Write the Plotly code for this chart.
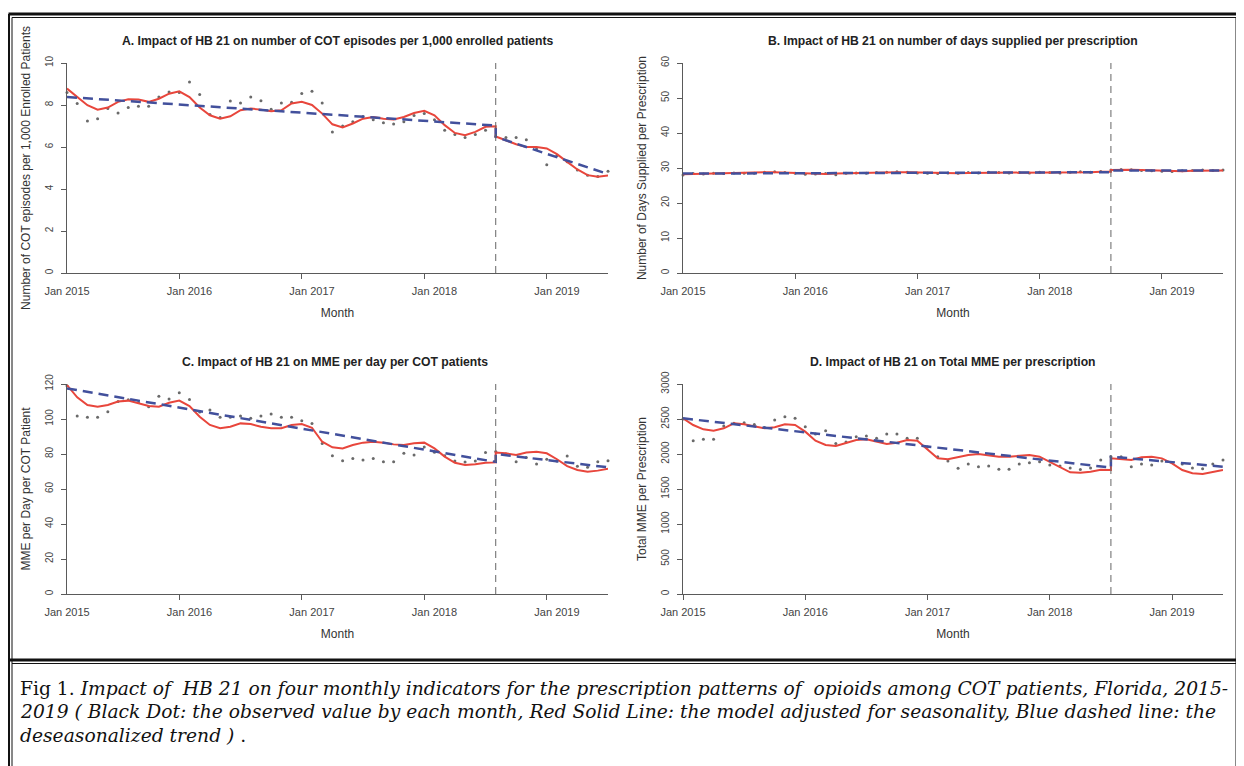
import plotly.graph_objects as go

W, H = 1244, 766
OFF = 8                      # page body margin in the browser
FW, FH = W - OFF, H - OFF    # figure size so the page exactly fills the window

# ---------------- data ----------------
months = list(range(54))          # Jan 2015 ... Jun 2019 (month index)
break_idx = 42                    # Jul 2018, HB 21
label_pos = [0, 12, 24, 36, 48]
tick_labels = ["Jan 2015", "Jan 2016", "Jan 2017", "Jan 2018", "Jan 2019"]
shifted_tick_pos = [11, 23, 35, 47]

# A. COT episodes per 1,000 enrolled patients
a_obs = [8.60, 8.07, 7.24, 7.35, 7.83, 7.62, 7.88, 7.94, 7.94, 8.38,
         8.62, 8.60, 9.10, 8.50, 7.55, 7.40, 8.19, 8.10, 8.38, 8.20,
         7.80, 8.10, 8.13, 8.55, 8.65, 8.10, 6.72, 7.00, 7.20, 7.45,
         7.30, 7.15, 7.10, 7.20, 7.50, 7.60, 7.30, 6.80, 6.60, 6.45,
         6.60, 6.80, 6.50, 6.45, 6.45, 6.35, 5.90, 5.15, 5.60, 5.30,
         4.90, 4.65, 4.60, 4.85]
a_fit_pre = [8.78, 8.38, 7.99, 7.78, 7.88, 8.15, 8.27, 8.26, 8.15, 8.30,
             8.54, 8.65, 8.38, 7.88, 7.51, 7.35, 7.46, 7.75, 7.83, 7.78,
             7.70, 7.75, 8.07, 8.15, 8.00, 7.59, 7.08, 6.93, 7.12, 7.35,
             7.43, 7.35, 7.31, 7.43, 7.62, 7.72, 7.51, 7.04, 6.67, 6.56,
             6.72, 6.96, 6.99]
a_fit_post = [6.50, 6.32, 6.13, 6.00, 6.00, 5.93, 5.66, 5.29, 4.93, 4.66, 4.58, 4.64]
a_trend_pre = [8.38, 7.02]
a_trend_post = [6.48, 4.71]

# B. Days supplied per prescription
b_obs = [28.0, 28.4, 28.3, 28.5, 28.4, 28.6, 28.5, 28.5, 28.8, 28.9,
         28.7, 28.5, 28.2, 28.3, 28.4, 28.1, 28.5, 28.6, 28.5, 28.7,
         28.8, 28.9, 28.8, 28.6, 28.5, 28.4, 28.6, 28.5, 28.7, 28.6,
         28.8, 28.7, 28.6, 28.7, 28.6, 28.8, 28.7, 28.6, 28.8, 28.9,
         28.8, 29.0, 29.4, 29.6, 29.5, 29.3, 29.2, 29.1, 29.0, 29.2,
         29.3, 29.4, 29.3, 29.4]
b_fit_pre = [28.2, 28.3, 28.4, 28.4, 28.5, 28.5, 28.6, 28.7, 28.8, 28.8,
             28.7, 28.6, 28.4, 28.3, 28.3, 28.4, 28.5, 28.5, 28.6, 28.7,
             28.8, 28.8, 28.8, 28.7, 28.6, 28.5, 28.5, 28.5, 28.6, 28.6,
             28.7, 28.7, 28.7, 28.8, 28.8, 28.8, 28.8, 28.7, 28.7, 28.8,
             28.8, 28.9, 28.9]
b_fit_post = [29.4, 29.5, 29.5, 29.4, 29.3, 29.2, 29.1, 29.1, 29.2, 29.3, 29.3, 29.3]
b_trend_pre = [28.4, 28.8]
b_trend_post = [29.3, 29.3]

# C. MME per day per COT patient
c_obs = [119.0, 101.7, 101.0, 101.0, 104.2, 110.0, 111.0, 109.5, 107.0, 113.0,
         111.5, 115.0, 111.2, 104.0, 105.1, 101.0, 101.0, 101.7, 100.4, 101.7,
         102.9, 101.0, 101.0, 99.0, 97.5, 86.0, 79.0, 76.2, 77.5, 76.6,
         77.5, 75.6, 75.6, 80.4, 79.4, 84.0, 81.0, 79.0, 76.0, 75.5,
         76.0, 80.8, 81.5, 80.0, 75.6, 78.0, 74.3, 77.0, 76.0, 78.9,
         73.0, 72.5, 75.6, 76.2]
c_fit_pre = [119.4, 112.4, 108.0, 107.0, 108.0, 110.0, 110.5, 109.0, 107.4, 107.0,
             109.3, 110.5, 107.4, 101.3, 96.6, 94.7, 95.6, 97.5, 97.1, 95.6,
             94.7, 94.7, 96.6, 97.1, 95.0, 87.0, 83.8, 83.2, 85.1, 86.5,
             87.0, 86.5, 85.5, 85.1, 86.1, 86.5, 83.2, 78.5, 75.0, 73.7,
             74.1, 75.0, 75.2]
c_fit_post = [80.8, 80.4, 79.4, 80.8, 81.3, 80.4, 77.0, 73.1, 70.9, 69.9, 70.5, 71.6]
c_trend_pre = [117.5, 75.5]
c_trend_post = [80.0, 72.4]

# D. Total MME per prescription
d_obs = [2500, 2190, 2210, 2210, 2400, 2440, 2448, 2420, 2380, 2486,
         2533, 2510, 2390, 2286, 2333, 2150, 2170, 2248, 2257, 2224,
         2286, 2286, 2224, 2224, 2100, 1960, 1900, 1795, 1857, 1819,
         1829, 1781, 1781, 1857, 1876, 1890, 1843, 1830, 1800, 1780,
         1800, 1914, 1960, 1962, 1819, 1857, 1843, 1900, 1880, 1857,
         1800, 1790, 1857, 1914]
d_fit_pre = [2510, 2414, 2352, 2333, 2367, 2438, 2424, 2390, 2367, 2381,
             2424, 2414, 2319, 2190, 2129, 2114, 2152, 2200, 2210, 2176,
             2143, 2162, 2200, 2190, 2057, 1938, 1924, 1952, 1986, 2000,
             1981, 1962, 1962, 1971, 1986, 1962, 1890, 1810, 1738, 1733,
             1748, 1776, 1771]
d_fit_post = [1938, 1924, 1914, 1952, 1962, 1938, 1867, 1771, 1724, 1714, 1738, 1771]
d_trend_pre = [2510, 1805]
d_trend_post = [1962, 1819]

panels = [
    dict(title="A. Impact of HB 21 on number of COT episodes per 1,000 enrolled patients",
         ytitle="Number of COT episodes per 1,000 Enrolled Patients",
         yticks=[0, 2, 4, 6, 8, 10], obs=a_obs, fpre=a_fit_pre, fpost=a_fit_post,
         tpre=a_trend_pre, tpost=a_trend_post, shifted=True,
         box=(67, 63, 608, 273), title_xc=338, title_y=41),
    dict(title="B. Impact of HB 21 on number of days supplied per prescription",
         ytitle="Number of Days Supplied per Prescription",
         yticks=[0, 10, 20, 30, 40, 50, 60], obs=b_obs, fpre=b_fit_pre, fpost=b_fit_post,
         tpre=b_trend_pre, tpost=b_trend_post, shifted=True,
         box=(683, 63, 1223, 273), title_xc=953, title_y=41),
    dict(title="C. Impact of HB 21 on MME per day per COT patients",
         ytitle="MME per Day per COT Patient",
         yticks=[0, 20, 40, 60, 80, 100, 120], obs=c_obs, fpre=c_fit_pre, fpost=c_fit_post,
         tpre=c_trend_pre, tpost=c_trend_post, shifted=True,
         box=(67, 384, 608, 594), title_xc=335, title_y=362),
    dict(title="D. Impact of HB 21 on Total MME per prescription",
         ytitle="Total MME per Prescription",
         yticks=[0, 500, 1000, 1500, 2000, 2500, 3000], obs=d_obs, fpre=d_fit_pre, fpost=d_fit_post,
         tpre=d_trend_pre, tpost=d_trend_post, shifted=False,
         box=(683, 384, 1223, 594), title_xc=953, title_y=362),
]

RED = "#E8463C"
BLUE = "#42509C"
DOT = "#6a6a6a"
AXC = "#5a5a5a"
FONT = "Liberation Sans, Arial, sans-serif"


def px(x):
    return (x - OFF) / FW


def py(y):
    return 1 - (y - OFF) / FH


fig = go.Figure()
layout = dict(
    width=FW, height=FH, margin=dict(l=0, r=0, t=0, b=0, autoexpand=False),
    paper_bgcolor="white", plot_bgcolor="white", showlegend=False,
    font=dict(family=FONT, color="#333"),
    annotations=[], shapes=[],
)

for k, p in enumerate(panels, start=1):
    sfx = "" if k == 1 else str(k)
    xa, ya = "x" + sfx, "y" + sfx
    x0, y0, x1, y1 = p["box"]

    fig.add_trace(go.Scatter(x=months, y=p["obs"], mode="markers", xaxis=xa, yaxis=ya,
                             marker=dict(size=3, color=DOT), cliponaxis=False))
    fit_x = months[:break_idx + 1] + months[break_idx:]
    fig.add_trace(go.Scatter(x=fit_x, y=p["fpre"] + p["fpost"], mode="lines",
                             xaxis=xa, yaxis=ya, line=dict(color=RED, width=2)))
    trend_x = [months[0], months[break_idx], months[break_idx], months[-1]]
    fig.add_trace(go.Scatter(x=trend_x, y=p["tpre"] + p["tpost"], mode="lines",
                             xaxis=xa, yaxis=ya,
                             line=dict(color=BLUE, width=2.5, dash="10px,6px")))

    xaxis = dict(
        domain=[px(x0), px(x1)], anchor=ya, range=[months[0], months[-1]],
        automargin=False,
        showline=True, linecolor=AXC, linewidth=1, showgrid=False, zeroline=False,
        tickmode="array", tickvals=label_pos, ticktext=tick_labels,
        tickfont=dict(size=11, color="#444"),
        title=dict(text="Month", font=dict(size=12, color="#333"), standoff=12),
    )
    if p["shifted"]:
        xaxis.update(ticks="", ticklabelstandoff=8,
                     minor=dict(tickmode="array", tickvals=shifted_tick_pos,
                                ticks="outside", ticklen=5, tickcolor=AXC, tickwidth=1))
    else:
        xaxis.update(ticks="outside", ticklen=5, tickcolor=AXC, ticklabelstandoff=3)

    yaxis = dict(
        domain=[py(y1), py(y0)], anchor=xa, range=[p["yticks"][0], p["yticks"][-1]],
        automargin=False,
        showline=True, linecolor=AXC, linewidth=1, showgrid=False, zeroline=False,
        tickmode="array", tickvals=p["yticks"], ticks="outside", ticklen=5,
        tickcolor=AXC, tickangle=-90, ticklabelstandoff=4,
        tickfont=dict(size=10, color="#444"),
        title=dict(text=p["ytitle"], font=dict(size=12, color="#333"), standoff=10),
    )
    layout["xaxis" + sfx] = xaxis
    layout["yaxis" + sfx] = yaxis

    layout["annotations"].append(dict(
        text="<b>" + p["title"] + "</b>", xref="paper", yref="paper",
        x=px(p["title_xc"]), y=py(p["title_y"]), xanchor="center", yanchor="middle",
        showarrow=False, font=dict(size=12.2, color="#222")))

    layout["shapes"].append(dict(
        type="line", xref=xa, yref=ya + " domain", x0=break_idx, x1=break_idx, y0=0, y1=1,
        line=dict(color="#666", width=1, dash="7px,5px")))

# frame (double border) and caption separator
frame = [
    (8.5, 14, 8.5, 780, 3), (8.5, 14, 1239.5, 14, 3), (1239.5, 14, 1239.5, 780, 3),
    (12, 17.5, 12, 780, 1), (12, 17.5, 1236, 17.5, 1), (1236, 17.5, 1236, 780, 1),
    (8.5, 660, 1239.5, 660, 3), (12, 663.5, 1236, 663.5, 1),
]
for fx0, fy0, fx1, fy1, w in frame:
    layout["shapes"].append(dict(type="line", xref="paper", yref="paper",
                                 x0=px(fx0), y0=py(fy0), x1=px(fx1), y1=py(fy1),
                                 line=dict(color="#111", width=w)))

caption_lines = [
    "Fig 1. <i>Impact of \u00a0HB 21 on four monthly indicators for the prescription patterns of \u00a0opioids among COT patients, Florida, 2015-</i>",
    "<i>2019 ( Black Dot: the observed value by each month, Red Solid Line: the model adjusted for seasonality, Blue dashed line: the</i>",
    "<i>deseasonalized trend ) </i>.",
]
for line, yc in zip(caption_lines, [688, 711, 735]):
    layout["annotations"].append(dict(
        text=line, xref="paper", yref="paper", x=px(18), y=py(yc),
        xanchor="left", yanchor="middle", showarrow=False,
        font=dict(family="DejaVu Serif, serif", size=18.7, color="#111")))

fig.update_layout(**layout)
fig.write_html("out.html")
